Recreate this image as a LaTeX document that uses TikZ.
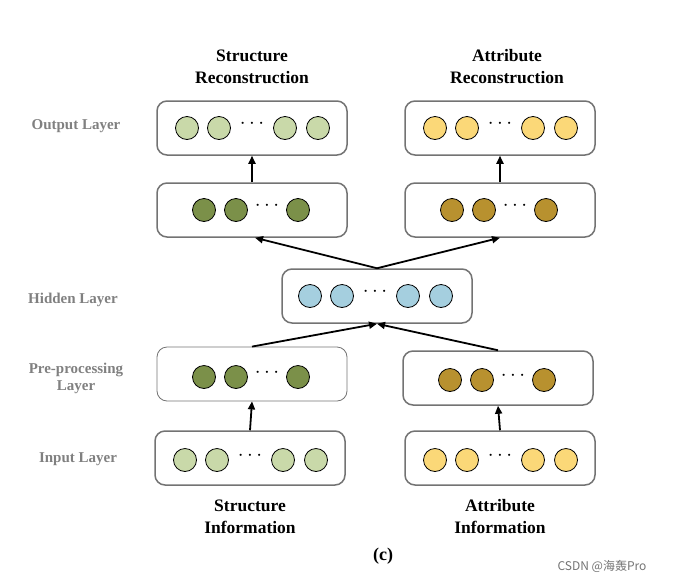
\documentclass[tikz,border=0pt]{standalone}
\usepackage{fontspec}
\setmainfont{Liberation Serif}
\newfontfamily\cjk{Noto Sans CJK SC}
\usetikzlibrary{arrows.meta}
\definecolor{lg}{HTML}{C9D9A9}
\definecolor{dg}{HTML}{7B9049}
\definecolor{ly}{HTML}{FBD878}
\definecolor{dy}{HTML}{B8912F}
\definecolor{lb}{HTML}{A5CFDF}
\begin{document}
\begin{tikzpicture}[x=1pt,y=-1pt,
 box/.style={draw=black!55,line width=1.5pt,rounded corners=10pt,minimum width=190pt,minimum height=54pt},
 thin/.style={line width=0.8pt},
 c/.style={circle,draw=black,line width=0.8pt,minimum size=23pt,inner sep=0pt},
 dt/.style={font=\fontsize{22}{22}\selectfont\bfseries,inner sep=0pt},
 arr/.style={-{Triangle[length=8pt,width=7pt]},line width=1.8pt},
 side/.style={font=\fontsize{15}{17}\selectfont\bfseries,text=black!50,align=center},
 ttl/.style={font=\fontsize{17.5}{22}\selectfont\bfseries,align=center,inner sep=0pt}]
\useasboundingbox (0,0) rectangle (674,584);
\newcommand{\fourc}[3]{%
 \node[c,fill=#3] at (#1-65,#2) {};
 \node[c,fill=#3] at (#1-33,#2) {};
 \node[dt] at (#1,#2-4) {$\cdots$};
 \node[c,fill=#3] at (#1+33,#2) {};
 \node[c,fill=#3] at (#1+66,#2) {};}
\newcommand{\threec}[3]{%
 \node[c,fill=#3] at (#1-48,#2) {};
 \node[c,fill=#3] at (#1-16,#2) {};
 \node[dt] at (#1+15,#2-4) {$\cdots$};
 \node[c,fill=#3] at (#1+46,#2) {};}
\node[box] (ol) at (252,128) {}; \fourc{252}{128}{lg}
\node[box] (or) at (500,128) {}; \fourc{500}{128}{ly}
\node[box] (sl) at (252,210) {}; \threec{252}{210}{dg}
\node[box] (sr) at (500,210) {}; \threec{500}{210}{dy}
\node[box] (h) at (377,296) {}; \fourc{375}{296}{lb}
\node[box,thin] (pl) at (252,374) {}; \threec{252}{377}{dg}
\node[box] (pr) at (498,378) {}; \threec{498}{380}{dy}
\node[box] (il) at (250,458) {}; \fourc{250}{460}{lg}
\node[box] (ir) at (500,458) {}; \fourc{500}{460}{ly}
\draw[arr] (sl.north) -- (ol.south);
\draw[arr] (sr.north) -- (or.south);
\draw[arr] (h.north) -- ([xshift=3pt]sl.south);
\draw[arr] (h.north) -- (sr.south);
\draw[arr] (pl.north) -- (h.south);
\draw[arr] (pr.north) -- (h.south);
\draw[arr] (il.north) -- (pl.south);
\draw[arr] (ir.north) -- (pr.south);
\node[side] (l1) at (76,126) {Output Layer};
\node[side] (l2) at (73,300) {Hidden Layer};
\node[side] (l3) at (76,378) {Pre-processing\\Layer};
\node[side] (l4) at (78,459) {Input Layer};
\node[ttl] (t1) at (252,67) {Structure\\Reconstruction};
\node[ttl] (t2) at (507,67) {Attribute\\Reconstruction};
\node[ttl] (b1) at (250,517) {Structure\\Information};
\node[ttl] (b2) at (500,517) {Attribute\\Information};
\node[font=\fontsize{18}{20}\selectfont\bfseries] (c) at (383,556) {(c)};
\node[font=\cjk\fontsize{12}{14}\selectfont,text=black!55] (w) at (602,566) {CSDN @海轰Pro};
\end{tikzpicture}
\end{document}
